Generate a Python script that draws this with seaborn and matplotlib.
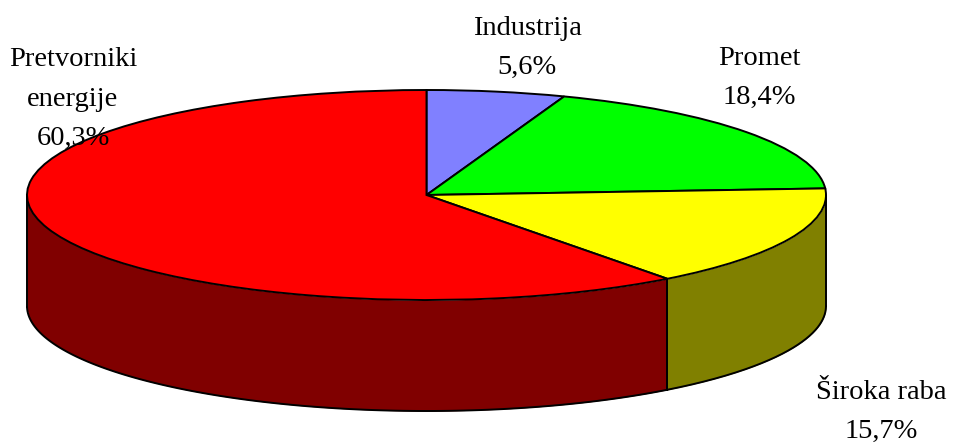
import numpy as np
import matplotlib.pyplot as plt
import seaborn as sns

sns.set_theme(style='white')
plt.rcParams['font.family'] = ['Liberation Serif', 'DejaVu Serif']

# udjeli potrosnje, krece od vrha u smjeru kazaljke
kategorije = ['Industrija', 'Promet', 'Široka raba', 'Pretvorniki\nenergije']
udjeli = [5.6, 18.4, 15.7, 60.3]
oznake = ['5,6%', '18,4%', '15,7%', '60,3%']
boje = ['#8080ff', '#00ff00', '#ffff00', '#ff0000']
boje_strana = ['#404080', '#008000', '#808000', '#800000']

W, H = 955, 445
cx, cy = 426.5, 195
rx, ry = 399.5, 105
dubina = 111
debljina = 1.4

fig = plt.figure(figsize=(W / 100, H / 100), dpi=100)
ax = fig.add_axes([0, 0, 1, 1])

d = dubina / ry
kut = 90 - np.cumsum([0] + udjeli) * 3.6

# bocna strana, samo prednji dio ruba
for i in range(len(udjeli)):
    a = np.radians(np.linspace(kut[i + 1], kut[i], 200))
    a = a[np.sin(a) <= 0.0]
    if len(a) == 0:
        continue
    x = np.cos(a)
    y = np.sin(a)
    ax.fill_between(x, y, y - d, color=boje_strana[i], lw=0, zorder=1)
    ax.plot(x, y - d, color='black', lw=debljina, zorder=2)
    ax.plot([x[0], x[0]], [y[0], y[0] - d], color='black', lw=debljina, zorder=2)
    ax.plot([x[-1], x[-1]], [y[-1], y[-1] - d], color='black', lw=debljina, zorder=2)

# gornja ploha
ax.pie(udjeli, colors=boje, startangle=90, counterclock=False,
       radius=1, center=(0, 0), frame=True,
       wedgeprops={'edgecolor': 'black', 'linewidth': debljina, 'zorder': 3})
ax.set_xlim(-cx / rx, (W - cx) / rx)
ax.set_ylim(-(H - cy) / ry, cy / ry)
ax.set_aspect('auto')
ax.axis('off')

# polozaj teksta u pikselima
poz = [(527, 48), (759, 78), (881, 412), (73, 99)]
for k, o, (px, py) in zip(kategorije, oznake, poz):
    ax.text((px - cx) / rx, (cy - py) / ry, k + '\n' + o, ha='center', va='center',
            fontsize=20.5, color='black', linespacing=1.76, zorder=5)

fig.savefig('out.png', dpi=100)
